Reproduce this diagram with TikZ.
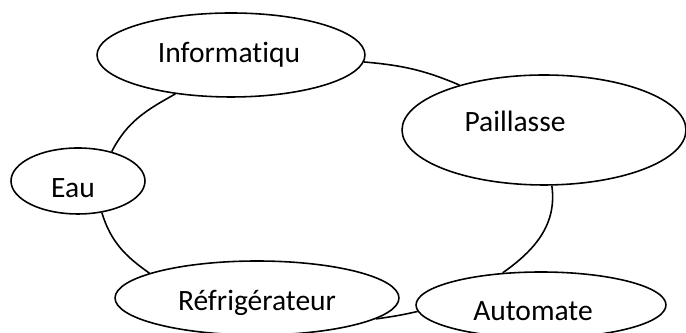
\documentclass[tikz,border=0pt]{standalone}
\usepackage{fontspec}
\setmainfont{Carlito}[Ligatures=NoCommon]
\usepackage{tikz}
\usetikzlibrary{shapes.geometric}

\begin{document}
\begin{tikzpicture}[
    x=0.02cm, y=0.02cm,
    bubble/.style={draw, ellipse, fill=white, line width=0.9pt, inner sep=0pt},
    tag/.style={font=\fontsize{16.8pt}{20pt}\selectfont},
    every label/.style={tag},
    link/.style={draw, line width=0.9pt}
]
\useasboundingbox (0,0) rectangle (686,333);
\node[bubble, minimum width=5.36cm, minimum height=1.68cm,
      label={[xshift=-0.04cm]center:Informatiqu}] (info) at (231,278) {};
\node[bubble, minimum width=5.68cm, minimum height=2.2cm,
      label={[xshift=-0.58cm, yshift=0.18cm]center:Paillasse}] (pail) at (544,203) {};
\node[bubble, minimum width=2.68cm, minimum height=1.32cm,
      label={[xshift=-0.1cm, yshift=-0.14cm]center:Eau}] (eau) at (78,152) {};
\node[bubble, minimum width=5.68cm, minimum height=1.48cm,
      label={[yshift=-0.1cm]center:Réfrigérateur}] (refr) at (257,35) {};
\node[bubble, minimum width=5cm, minimum height=1.32cm,
      label={[xshift=-0.16cm, yshift=-0.12cm]center:Automate}] (auto) at (541,28) {};

\path[link] (info.-3) to[out=-5, in=157] (pail.152);
\path[link] (info.215) to[out=209, in=63] (eau.41);
\path[link] (eau.-53) to[out=-73, in=145] (refr.167);
\path[link] (pail.-82) to[out=-82, in=35] (auto.140);
\path[link] (refr.-10) to[out=8, in=193] (auto.183);
\end{tikzpicture}
\end{document}
